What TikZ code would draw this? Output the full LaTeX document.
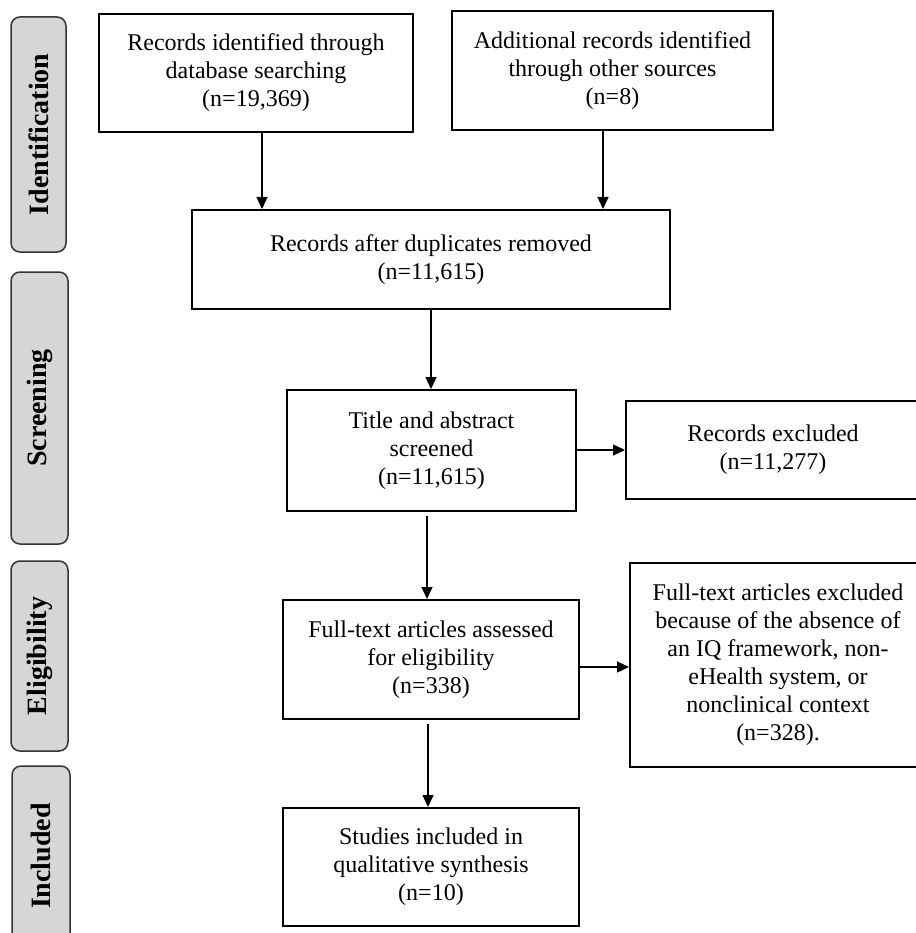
\documentclass[tikz,border=0pt]{standalone}
\usepackage{fontspec}
\setmainfont{Liberation Serif}
\usetikzlibrary{arrows.meta}
\begin{document}
\begin{tikzpicture}[x=1pt,y=-1pt,
  box/.style={draw=black,line width=2pt,align=center,inner sep=0pt,
    font=\fontsize{24}{28}\selectfont},
  side/.style={draw=black!80,line width=1.5pt,fill=black!16,rounded corners=9pt,
    rotate=90,inner sep=0pt,font=\fontsize{28}{30}\selectfont\bfseries},
  arr/.style={line width=1.3pt,-{Triangle[length=12pt,width=11pt]}}]
\useasboundingbox (0,0) rectangle (915,933);
% side labels
\node[side,minimum width=235pt,minimum height=55pt] (sid) at (38.5,134.5) {Identification};
\node[side,minimum width=272pt,minimum height=57pt] (sscr) at (39.5,408) {Screening};
\node[side,minimum width=190pt,minimum height=57pt] (selig) at (39.5,656) {Eligibility};
\node[side,minimum width=180pt,minimum height=58pt] (sincl) at (41,856) {Included};
% boxes
\node[box,minimum width=314pt,minimum height=118pt] (b1) at (256,73)
  {Records identified through\\database searching\\(n=19,369)};
\node[box,minimum width=321pt,minimum height=119pt] (b2) at (612.5,70.5)
  {Additional records identified\\through other sources\\(n=8)};
\node[box,minimum width=478pt,minimum height=99pt] (b3) at (431,259.5)
  {Records after duplicates removed\\(n=11,615)};
\node[box,minimum width=289pt,minimum height=121pt] (b4) at (431.5,450.5)
  {Title and abstract\\screened\\(n=11,615)};
\node[box,minimum width=294pt,minimum height=98pt] (b5) at (773,450)
  {Records excluded\\(n=11,277)};
\node[box,minimum width=296pt,minimum height=119pt] (b6) at (431,659.5)
  {Full-text articles assessed\\for eligibility\\(n=338)};
\node[box,minimum width=296pt,minimum height=204pt] (b7) at (778,665)
  {Full-text articles excluded\\because of the absence of\\an IQ framework, non-\\eHealth system, or\\nonclinical context\\(n=328).};
\node[box,minimum width=296pt,minimum height=118pt] (b8) at (431,867)
  {Studies included in\\qualitative synthesis\\(n=10)};
% connectors
\draw[arr] (b1.south -| 262,0) -- (b3.north -| 262,0);
\draw[arr] (b2.south -| 603,0) -- (b3.north -| 603,0);
\draw[arr] (b3.south -| 431,0) -- (b4.north -| 431,0);
\draw[arr] ([yshift=-4pt]b4.south -| 427,0) -- (b6.north -| 427,0);
\draw[arr] (b4.east |- 0,450) -- (b5.west |- 0,450);
\draw[arr] ([yshift=-4pt]b6.south -| 428,0) -- (b8.north -| 428,0);
\draw[arr] (b6.east |- 0,667) -- (b7.west |- 0,667);
\end{tikzpicture}
\end{document}
